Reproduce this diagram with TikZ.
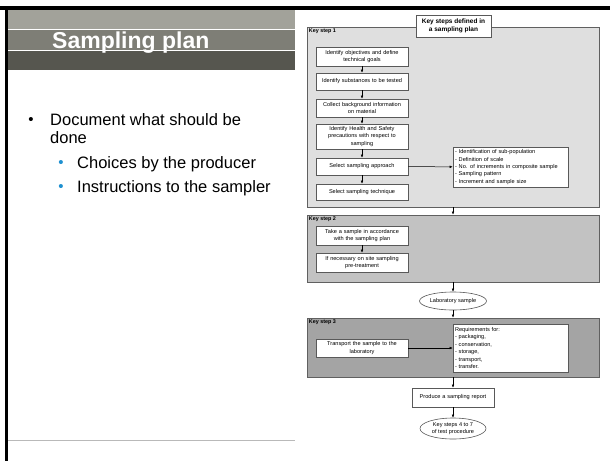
\documentclass[tikz,border=0pt]{standalone}
\usepackage{fontspec}
\setmainfont{Liberation Sans}
\usetikzlibrary{shapes.geometric,arrows.meta}

\definecolor{bandtop}{HTML}{A2A29A}
\definecolor{bandmid}{HTML}{7E7E76}
\definecolor{banddark}{HTML}{56564F}
\definecolor{ksone}{HTML}{DFDFDF}
\definecolor{kstwo}{HTML}{C2C2C2}
\definecolor{ksthree}{HTML}{A4A4A4}
\definecolor{subdot}{HTML}{1E90D0}

\tikzset{
  stepbox/.style={draw=gray!70!black, fill=white, line width=0.6pt,
    minimum width=92pt, inner sep=1pt, align=center, text width=88pt,
    font=\fontsize{5.6}{7.8}\selectfont},
  listbox/.style={draw=gray!70!black, fill=white, line width=0.6pt,
    minimum width=115pt, inner sep=2pt, align=left, text width=111pt,
    font=\fontsize{5.6}{7.4}\selectfont},
  panel/.style={draw=gray!75!black, line width=0.7pt, minimum width=292pt},
  panellabel/.style={anchor=north west, inner sep=2pt,
    font=\bfseries\fontsize{5.4}{6}\selectfont},
  oval/.style={ellipse, draw=gray!70!black, fill=white, line width=0.6pt,
    inner sep=0pt, align=center, font=\fontsize{5.6}{7.4}\selectfont},
  flow/.style={-{Latex[length=3pt,width=2.6pt]}, line width=0.5pt},
  bigtext/.style={anchor=base west, inner sep=0pt, font=\fontsize{16.5}{18}\selectfont},
  bulletdot/.style={anchor=base, inner sep=0pt, font=\fontsize{15}{16}\selectfont},
}

\begin{document}
\begin{tikzpicture}[x=1pt,y=-1pt]
\useasboundingbox (0,0) rectangle (610,461);

% slide frame
\draw[line width=3.5pt] (0,8) -- (610,8);
\draw[line width=3pt] (6.5,8) -- (6.5,461);
\draw[gray!55, line width=0.8pt] (8,440) -- (295,440);

% title band
\fill[bandtop] (8,10) rectangle (295,29.5);
\fill[bandmid] (8,29.5) rectangle (295,50.5);
\fill[banddark] (8,50.5) rectangle (295,70);
\draw[white, line width=0.8pt] (8,29.5) -- (295,29.5);
\draw[white, line width=0.8pt] (8,50.5) -- (295,50.5);
\node[anchor=base west, inner sep=0pt, text=white,
  font=\bfseries\fontsize{23}{26}\selectfont] (title) at (52,48) {Sampling plan};

% bullet list
\node[bulletdot] (dot1) at (31,124) {•};
\node[bigtext] (doc1) at (50,125) {Document what should be};
\node[bigtext] (doc2) at (50,143) {done};
\node[bulletdot, text=subdot] (dot2) at (61,167) {•};
\node[bigtext] (sub1) at (77,168) {Choices by the producer};
\node[bulletdot, text=subdot] (dot3) at (61,191) {•};
\node[bigtext] (sub2) at (77,192) {Instructions to the sampler};

% key step 1
\node[panel, fill=ksone, minimum height=180pt] (ks1) at (453,117) {};
\node[panellabel] at (ks1.north west) {Key step 1};
\node[draw=gray!70!black, fill=white, line width=0.6pt, minimum width=75pt,
  minimum height=22pt, inner sep=1pt, align=center,
  font=\bfseries\fontsize{6.5}{8}\selectfont] (head) at (453.5,26)
  {Key steps defined in\\a sampling plan};

\node[stepbox, minimum height=19pt] (objectives) at (362,56.5) {Identify objectives and define\\technical goals};
\node[stepbox, minimum height=17pt] (substances) at (362,81.5) {Identify substances to be tested};
\node[stepbox, minimum height=18pt] (background) at (362,108) {Collect background information\\on material};
\node[stepbox, minimum height=25pt] (safety) at (362,136.5) {Identify Health and Safety\\precautions with respect to\\sampling};
\node[stepbox, minimum height=17pt] (approach) at (362,166.5) {Select sampling approach};
\node[stepbox, minimum height=16pt] (technique) at (362,192) {Select sampling technique};
\node[listbox, minimum height=40pt] (choices) at (510.5,167) {- Identification of sub-population\\- Definition of scale\\- No. of increments in composite sample\\- Sampling pattern\\- Increment and sample size};

\draw[flow] (objectives) -- (substances);
\draw[flow] (substances) -- (background);
\draw[flow] (background) -- (safety);
\draw[flow] (safety) -- (approach);
\draw[flow] (approach) -- (technique);
\draw[flow] (approach) -- (choices);

% key step 2
\node[panel, fill=kstwo, minimum height=67pt] (ks2) at (453,248.5) {};
\node[panellabel] at (ks2.north west) {Key step 2};
\node[stepbox, minimum height=19pt] (take) at (362,235.5) {Take a sample in accordance\\with the sampling plan};
\node[stepbox, minimum height=19pt] (pretreat) at (362,262.5) {If necessary on site sampling\\pre-treatment};
\draw[flow] (take) -- (pretreat);
\draw[flow] (ks1) -- (ks2);

% laboratory sample
\node[oval, minimum width=67pt, minimum height=18pt] (labsample) at (453,301) {Laboratory sample};
\draw[flow] (ks2) -- (labsample);

% key step 3
\node[panel, fill=ksthree, minimum height=59pt] (ks3) at (453,347.5) {};
\node[panellabel] at (ks3.north west) {Key step 3};
\node[stepbox, minimum height=18pt] (transport) at (362,348) {Transport the sample to the\\laboratory};
\node[listbox, minimum height=48pt] (requirements) at (510.5,348) {Requirements for:\\- packaging,\\- conservation,\\- storage,\\- transport,\\- transfer.};
\draw[flow] (transport) -- (requirements);
\draw[flow] (labsample) -- (ks3);

% report
\node[stepbox, minimum width=82pt, text width=78pt, minimum height=19pt] (report) at (453,397.5) {Produce a sampling report};
\node[oval, minimum width=66pt, minimum height=21pt] (nextsteps) at (453,428.5) {Key steps 4 to 7\\of test procedure};
\draw[flow] (ks3) -- (report);
\draw[flow] (report) -- (nextsteps);
\end{tikzpicture}
\end{document}
